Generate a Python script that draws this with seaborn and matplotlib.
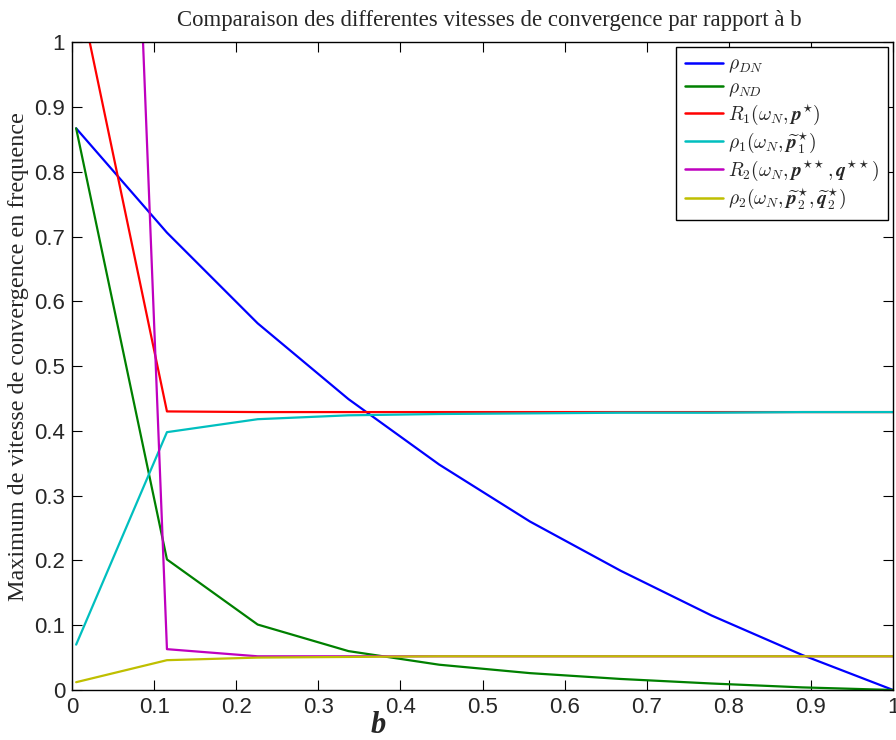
import matplotlib
matplotlib.use("Agg")
import matplotlib.pyplot as plt
import seaborn as sns
import pandas as pd
from matplotlib.ticker import FuncFormatter

# ---- data ----
b_values = [0.005, 0.1156, 0.2261, 0.3367, 0.4472, 0.5578, 0.6683, 0.7789, 0.8894, 1.0]
rho_DN = [0.867, 0.706, 0.566, 0.449, 0.348, 0.260, 0.184, 0.115, 0.054, 0.0]
rho_ND = [0.867, 0.2015, 0.101, 0.060, 0.039, 0.026, 0.017, 0.010, 0.004, 0.0]
R1 = [1.10, 0.430, 0.429, 0.429, 0.429, 0.429, 0.429, 0.429, 0.429, 0.429]
rho1 = [0.070, 0.398, 0.418, 0.424, 0.426, 0.427, 0.428, 0.428, 0.429, 0.429]
R2 = [3.62, 0.063, 0.052, 0.052, 0.052, 0.052, 0.052, 0.052, 0.052, 0.052]
rho2 = [0.012, 0.046, 0.050, 0.051, 0.052, 0.052, 0.052, 0.052, 0.052, 0.052]

labels = [
    r'$\rho_{DN}$',
    r'$\rho_{ND}$',
    r'$R_1(\omega_N, \mathbfit{p}^{\star})$',
    r'$\rho_1(\omega_N, \widetilde{\mathbfit{p}}_1^{\star})$',
    r'$R_2(\omega_N, \mathbfit{p}^{\star\star}, \mathbfit{q}^{\star\star})$',
    r'$\rho_2(\omega_N, \widetilde{\mathbfit{p}}_2^{\star}, \widetilde{\mathbfit{q}}_2^{\star})$',
]
series = [rho_DN, rho_ND, R1, rho1, R2, rho2]
colors = [(0, 0, 1), (0, 0.5, 0), (1, 0, 0), (0, 0.75, 0.75), (0.75, 0, 0.75), (0.75, 0.75, 0)]

rows = []
for lab, vals in zip(labels, series):
    for x, y in zip(b_values, vals):
        rows.append({"b": x, "val": y, "serie": lab})
df = pd.DataFrame(rows)

sns.set_style("ticks")
plt.rcParams['font.family'] = ['Liberation Sans', 'DejaVu Sans']
plt.rcParams['mathtext.fontset'] = 'cm'
plt.rcParams['xtick.direction'] = 'in'
plt.rcParams['ytick.direction'] = 'in'
plt.rcParams['xtick.top'] = True
plt.rcParams['ytick.right'] = True

fig = plt.figure(figsize=(8.96, 7.40), dpi=100)
ax = fig.add_axes([0.0804, 0.0676, 0.9163, 0.8754])

sns.lineplot(data=df, x="b", y="val", hue="serie", hue_order=labels,
             palette=dict(zip(labels, colors)), linewidth=1.6, ax=ax,
             estimator=None, sort=False)

ax.set_xlim(0, 1)
ax.set_ylim(0, 1)
ax.set_xticks([i / 10 for i in range(11)])
ax.set_yticks([i / 10 for i in range(11)])
fmt = FuncFormatter(lambda v, p: ('%g' % round(v, 2)))
ax.xaxis.set_major_formatter(fmt)
ax.yaxis.set_major_formatter(fmt)
ax.tick_params(axis='both', which='major', labelsize=16, length=7, width=0.8,
               color='black', pad=5)
for s in ax.spines.values():
    s.set_linewidth(1.0)
    s.set_color('black')

ax.set_title("Comparaison des differentes vitesses de convergence par rapport à b",
             fontfamily='Liberation Serif', fontsize=16.4, pad=12, x=0.508)
ax.set_ylabel("Maximum de vitesse de convergence en frequence",
              fontfamily='Liberation Serif', fontsize=17.4)
ax.yaxis.set_label_coords(-0.052, 0.515)
ax.set_xlabel("b", fontfamily='Liberation Serif', fontsize=22,
              fontweight='bold', fontstyle='italic')
ax.xaxis.set_label_coords(0.373, -0.032)

leg = ax.legend(loc='upper right', fontsize=14, frameon=True, fancybox=False,
                edgecolor='black', framealpha=1, borderaxespad=0.26,
                handlelength=1.95, handletextpad=0.25, labelspacing=0.2,
                borderpad=0.45)
leg.get_frame().set_linewidth(1.0)
for h in leg.get_lines():
    h.set_linewidth(1.8)

fig.savefig("out.png", dpi=100)
